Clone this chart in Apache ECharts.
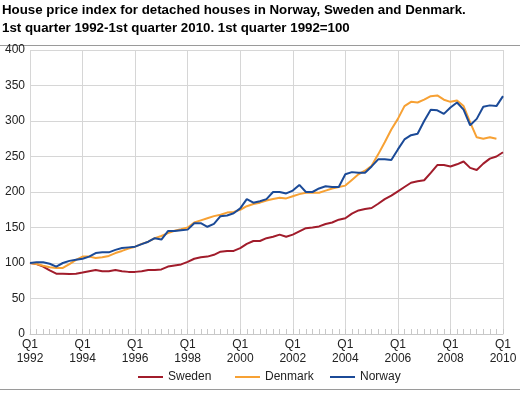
<!DOCTYPE html>
<html><head><meta charset="utf-8">
<script src="https://cdn.jsdelivr.net/npm/echarts@6/dist/echarts.min.js"></script>
<style>html,body{margin:0;padding:0;background:#fff}#c{width:520px;height:393px}</style>
</head><body><div id="c"></div>
<script>
const years = [1992,1993,1994,1995,1996,1997,1998,1999,2000,2001,2002,2003,2004,2005,2006,2007,2008,2009,2010];
const quarters = ["Q1","Q2","Q3","Q4"];
const seriesNames = ["Sweden","Denmark","Norway"];
const sweden = [
 100,98.5,95,89.5, 85,85,84.5,85, 86.5,88.5,90,88.5, 88.5,90,88.5,87.5,
 87.5,88.5,90,90, 91,95,96.5,98, 101.5,106,108,109, 111.5,116,117,117,
 121,127,131,131, 135,137,140,137, 140,144.5,149,150, 151.5,155,157,161,
 163,169.5,174,176, 177.5,183.5,190,195, 201,207,213,215, 216.5,227,238,238,
 236,239,243,234, 231,240,247,250, 256];
const denmark = [
 100,98.5,96,94, 93,93,98.5,104.5, 109,109,107,108, 110,114,117,120.5,
 123,127,130,135, 138,142,145.5,147.5, 150,157,160,163, 166,168,171,172,
 175,180,183,185, 188,190,192,191, 194,197,199,199, 199,202,205,207,
 209,217,225,230, 237,253,270,288, 303,321,327,326, 330,335,336,330,
 327,329,321,298, 277,275,277,275, null];
const norway = [
 100,101,101,99, 95,100,103,104.5, 106,109,114,115, 115,118.5,121,122,
 123,126.5,130,135, 133,145,145,146, 147,156,156,151, 155,166,167,170,
 177,190,185,187, 190,200,200,198, 202,210,200,200, 205,208,207,207,
 225,228,227,227, 236,246,246,245, 260,274,280,282, 300,316,315,310,
 319,326,316,294, 303,320,322,321, 335];
const colors = ["#a11c2b","#f7a134","#1b4a97"];

const categories = [];
years.forEach(y => quarters.forEach(q => { if (y < 2010 || q === "Q1") categories.push(q + "\n" + y); }));

const chart = echarts.init(document.getElementById('c'), null, {renderer:'canvas'});
const font = 'Liberation Sans, Arial, sans-serif';
const legendLefts = [138, 235, 330];
chart.setOption({
  animation:false,
  textStyle:{fontFamily:font},
  title:{text:'House price index for detached houses in Norway, Sweden and Denmark.\n1st quarter 1992-1st quarter 2010. 1st quarter 1992=100',
    left:2, top:1, padding:0, textStyle:{fontFamily:font, fontSize:13.3, fontWeight:'bold', color:'#000', lineHeight:18}},
  graphic:[
    {type:'line', shape:{x1:0,y1:45.5,x2:520,y2:45.5}, style:{stroke:'#9a9a9a', lineWidth:1}},
    {type:'line', shape:{x1:0,y1:389.5,x2:520,y2:389.5}, style:{stroke:'#9a9a9a', lineWidth:1}}
  ],
  legend: seriesNames.map((n, i) => ({top:371, left:legendLefts[i], itemWidth:25, itemHeight:2, icon:'rect', padding:0, itemGap:0,
    textStyle:{fontFamily:font, fontSize:12, color:'#222'}, data:[n]})),
  grid:{left:30, right:17, top:50, bottom:59, containLabel:false},
  xAxis:{type:'category', data:categories, boundaryGap:false,
    axisLine:{lineStyle:{color:'#c8c8c8', width:1}},
    axisTick:{show:true, inside:true, interval:0, length:5, lineStyle:{color:'#c8c8c8'}},
    axisLabel:{interval:7, fontSize:12, color:'#222', lineHeight:14, margin:4, fontFamily:font},
    splitLine:{show:true, interval:7, lineStyle:{color:'#d6d6d6', width:1}}},
  yAxis:{type:'value', min:0, max:400, interval:50,
    axisLine:{show:false}, axisTick:{show:false},
    axisLabel:{fontSize:12, color:'#222', margin:5, fontFamily:font},
    splitLine:{lineStyle:{color:'#d6d6d6', width:1}}},
  series:[
    {name:seriesNames[0], type:'line', data:sweden, showSymbol:false, lineStyle:{width:2, color:colors[0]}, itemStyle:{color:colors[0]}},
    {name:seriesNames[1], type:'line', data:denmark, showSymbol:false, lineStyle:{width:2, color:colors[1]}, itemStyle:{color:colors[1]}},
    {name:seriesNames[2], type:'line', data:norway, showSymbol:false, lineStyle:{width:2, color:colors[2]}, itemStyle:{color:colors[2]}}
  ]
});
</script></body></html>
